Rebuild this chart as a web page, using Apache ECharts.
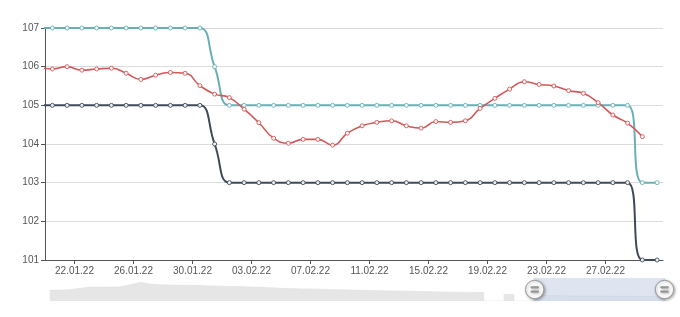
<!DOCTYPE html>
<html>
<head>
<meta charset="utf-8">
<script src="https://cdn.jsdelivr.net/npm/echarts@6/dist/echarts.min.js"></script>
<style>html,body{margin:0;padding:0;background:#fff}#c{width:680px;height:317px}</style>
</head>
<body>
<div id="c"></div>
<script>
// Daily dates (each value stamped at noon of its day)
const dates = ['19.01.22','20.01.22','21.01.22','22.01.22','23.01.22','24.01.22','25.01.22','26.01.22','27.01.22','28.01.22','29.01.22','30.01.22','31.01.22',
  '01.02.22','02.02.22','03.02.22','04.02.22','05.02.22','06.02.22','07.02.22','08.02.22','09.02.22','10.02.22','11.02.22','12.02.22','13.02.22','14.02.22',
  '15.02.22','16.02.22','17.02.22','18.02.22','19.02.22','20.02.22','21.02.22','22.02.22','23.02.22','24.02.22','25.02.22','26.02.22','27.02.22','28.02.22',
  '01.03.22','02.03.22'];

const tickLabels = ['22.01.22','26.01.22','30.01.22','03.02.22','07.02.22','11.02.22','15.02.22','19.02.22','23.02.22','27.02.22'];

const tealValues = [107,107,107,107,107,107,107,107,107,107,107,107,106,
  105,105,105,105,105,105,105,105,105,105,105,105,105,105,105,105,105,105,105,105,105,105,105,105,105,105,105,105,
  103,103];

const darkValues = [105,105,105,105,105,105,105,105,105,105,105,105,104,
  103,103,103,103,103,103,103,103,103,103,103,103,103,103,103,103,103,103,103,103,103,103,103,103,103,103,103,103,
  101,101];

const redValues = [106.0,105.94,106.0,105.91,105.94,105.96,105.83,105.67,105.78,105.85,105.83,105.51,105.29,
  105.2,104.9,104.55,104.15,104.02,104.12,104.12,103.97,104.28,104.47,104.56,104.6,104.47,104.41,104.58,104.56,
  104.6,104.92,105.18,105.42,105.61,105.54,105.5,105.38,105.31,105.07,104.75,104.54,104.19,null];

// Long-period overview shown in the zoom slider
const overviewValues = [13,13,13.3,14.5,15.5,15.5,15.5,15.7,17.5,19.5,18,17.5,17.3,17,17,16.8,16.5,16.3,16,16,
  15.5,15.3,15,14.5,14.3,14,14,13.7,13.5,13.3,13,12.8,12.7,12.5,12.3,12.2,12,11.8,11.7,11.5,11.3,11.2,11,11,
  null,9.5,9.3,null,8.7,8.5,8.3,8.2,8,8,8,8,7.8,7.8,7.8,7.7,7.5,7.5];

// x = days since 20.01.22 00:00
const pts = arr => arr.map((v, i) => [i - 0.5, v]);
const tickValues = tickLabels.map(l => dates.indexOf(l) - 1);

const font = 'Liberation Sans';
const chart = echarts.init(document.getElementById('c'));

function lineSeries(name, values, color, width) {
  return {
    name, type: 'line', data: pts(values), smooth: true,
    symbol: 'circle', symbolSize: 4, showSymbol: true,
    lineStyle: {color, width},
    itemStyle: {color: '#fff', borderColor: color, borderWidth: 1, opacity: 0.9},
    emphasis: {disabled: true},
    xAxisIndex: 0, yAxisIndex: 0
  };
}

chart.setOption({
  animation: false,
  grid: [
    {left: 45, right: 17, top: 28, bottom: 57},
    {left: 45, right: 17, top: 28, bottom: 57, show: false}
  ],
  xAxis: [
    {
      type: 'value', min: 0, max: 41.9,
      axisLine: {show: true, lineStyle: {color: '#555', width: 1}},
      axisTick: {show: true, customValues: tickValues, length: 4, lineStyle: {color: '#555'}},
      axisLabel: {customValues: tickValues, formatter: v => dates[Math.round(v) + 1], color: '#555', fontSize: 10, fontFamily: font, margin: 6},
      splitLine: {show: false}
    },
    {type: 'category', gridIndex: 1, show: false, data: overviewValues.map((v, i) => i)}
  ],
  yAxis: [
    {
      type: 'value', min: 101, max: 107, interval: 1,
      axisLine: {show: true, lineStyle: {color: '#555', width: 1}},
      axisTick: {show: true, length: 4, lineStyle: {color: '#555'}},
      axisLabel: {color: '#555', fontSize: 10, fontFamily: font, margin: 6},
      splitLine: {show: true, lineStyle: {color: '#dcdcdc', width: 1}}
    },
    {type: 'value', gridIndex: 1, show: false, scale: true}
  ],
  dataZoom: [{
    type: 'slider', xAxisIndex: 1, start: 78.6, end: 100,
    left: 47, right: 17, bottom: 16, height: 23,
    backgroundColor: 'transparent', borderColor: 'transparent',
    fillerColor: 'rgba(205,215,232,0.65)',
    showDetail: false, brushSelect: false, moveHandleSize: 0,
    dataBackground: {lineStyle: {color: '#dedede', width: 0.5}, areaStyle: {color: '#e6e6e6', opacity: 1}},
    selectedDataBackground: {lineStyle: {color: '#c3ccd9', width: 0.5}, areaStyle: {color: '#d6dde8', opacity: 0.6}},
    handleIcon: 'path://M0,-10A10,10 0 1,1 0,10A10,10 0 1,1 0,-10Z M-4,-3L-4,-1.6L4,-1.6L4,-3Z M-4,1.6L-4,3L4,3L4,1.6Z',
    handleSize: '80%',
    handleStyle: {color: '#fff', borderColor: '#9a9a9a', borderWidth: 1, shadowBlur: 3, shadowColor: 'rgba(0,0,0,0.35)', shadowOffsetX: 1, shadowOffsetY: 1}
  }],
  series: [
    {
      name: 'overview', type: 'line', xAxisIndex: 1, yAxisIndex: 1, data: overviewValues,
      symbol: 'none', lineStyle: {opacity: 0}, silent: true, connectNulls: false
    },
    lineSeries('low', darkValues, '#3e4a58', 2),
    lineSeries('high', tealValues, '#6aafb4', 2),
    lineSeries('price', redValues, '#cf5a5a', 1.6)
  ]
});
</script>
</body>
</html>
